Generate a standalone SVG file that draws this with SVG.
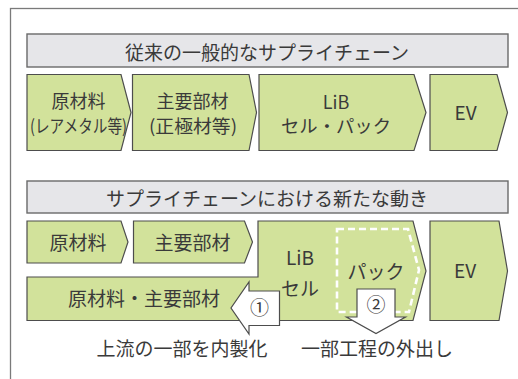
<svg xmlns="http://www.w3.org/2000/svg" width="518" height="379" viewBox="0 0 518 379">
<style>
.t{font-family:"Noto Sans CJK JP","Noto Sans CJK SC",sans-serif;font-size:19px;fill:#3a3a3a;text-anchor:middle}
.s{font-size:18px}
.g{fill:#d2e29b;stroke:#4d4d4d;stroke-width:1.2}
.h{fill:#e6e6e9;stroke:#6a6a6a;stroke-width:1.4}
.a{fill:#ffffff;stroke:#4d4d4d;stroke-width:1.2}
.c{font-family:"Noto Sans CJK JP","Noto Sans CJK SC",sans-serif;font-size:19px;fill:#3a3a3a;text-anchor:middle}
</style>
<rect width="518" height="379" fill="#ffffff"/>
<rect id="frame" x="10.5" y="8.5" width="520" height="380" fill="none" stroke="#7a7a7a" stroke-width="1.3"/>

<g id="title1">
<rect class="h" x="27" y="34" width="481" height="33"/>
<text class="t" x="267" y="60">従来の一般的なサプライチェーン</text>
</g>

<g id="n1-raw">
<polygon class="g" points="27,74.5 121,74.5 131,112.5 121,150.5 27,150.5"/>
<text class="t s" x="78.5" y="108">原材料</text>
<text class="t s" x="78.5" y="133" textLength="97" lengthAdjust="spacingAndGlyphs">(レアメタル等)</text>
</g>
<g id="n1-main">
<polygon class="g" points="132.5,74.5 249,74.5 256.5,112.5 249,150.5 132.5,150.5"/>
<text class="t s" x="192.5" y="108">主要部材</text>
<text class="t s" x="193" y="133" textLength="88" lengthAdjust="spacingAndGlyphs">(正極材等)</text>
</g>
<g id="n1-lib">
<polygon class="g" points="259,74.5 414,74.5 426,112.5 414,150.5 259,150.5"/>
<text class="t s" x="336" y="108.5">LiB</text>
<text class="t s" x="336" y="132.5" textLength="110" lengthAdjust="spacingAndGlyphs">セル・パック</text>
</g>
<g id="n1-ev">
<polygon class="g" points="430,74.5 497,74.5 507.5,112.5 497,150.5 430,150.5"/>
<text class="t" x="465.5" y="120">EV</text>
</g>

<g id="title2">
<rect class="h" x="27" y="181" width="481" height="32"/>
<text class="t" x="267" y="206">サプライチェーンにおける新たな動き</text>
</g>

<g id="n2-raw">
<polygon class="g" points="27,221 121,221 128,242 121,263 27,263"/>
<text class="t" x="78" y="250">原材料</text>
</g>
<g id="n2-main">
<polygon class="g" points="133.5,221 244.5,221 252.5,242 244.5,263 133.5,263"/>
<text class="t" x="192.5" y="250">主要部材</text>
</g>
<g id="n2-lib">
<polygon class="g" points="27,277 258,277 258,221 413,221 426,271 413,320.5 27,320.5"/>
<polygon points="337,229 408,229 419,270 409,312 337,312" fill="none" stroke="#ffffff" stroke-width="2.6" stroke-dasharray="7 4"/>
<text class="t" x="144" y="306">原材料・主要部材</text>
<text class="t" x="300" y="264.5">LiB</text>
<text class="t" x="300" y="295.5">セル</text>
<text class="t" x="376" y="279">パック</text>
</g>
<g id="n2-ev">
<polygon class="g" points="430,221 499,221 507.5,271 499,320.5 430,320.5"/>
<text class="t" x="465" y="278">EV</text>
</g>

<g id="connectors">
<polygon class="a" points="279.5,291 249,291 249,282 231,308 249,334 249,325.5 279.5,325.5"/>
<text class="c" x="259.5" y="315">①</text>
<polygon class="a" points="357,289 395,289 395,317 405.5,317 376,333.5 346.5,317 357,317"/>
<text class="c" x="376" y="312">②</text>
</g>

<text class="t" x="182" y="355.5">上流の一部を内製化</text>
<text class="t" x="377" y="355.5">一部工程の外出し</text>
</svg>
